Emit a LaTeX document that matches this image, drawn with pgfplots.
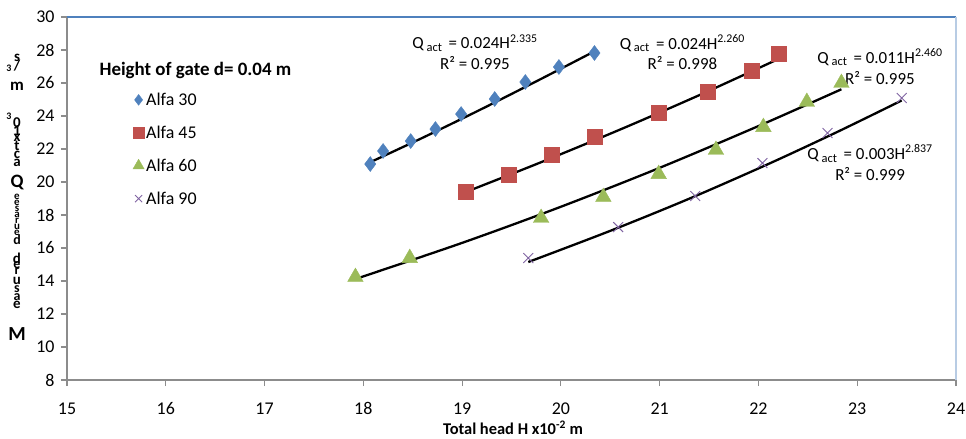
\documentclass[border=0pt]{standalone}
\usepackage{fontspec}
\setmainfont{Carlito}
\usepackage{pgfplots}
\pgfplotsset{compat=1.18}
\definecolor{cBlue}{HTML}{4F81BD}
\definecolor{cRed}{HTML}{C0504D}
\definecolor{cGreen}{HTML}{9BBB59}
\definecolor{cPurple}{HTML}{8064A2}
\definecolor{cAxis}{HTML}{8C8C8C}
\definecolor{cFrame}{HTML}{B8CCE4}
\newcommand{\qact}{Q\,\raisebox{-0.35ex}{\fontsize{12.5}{12.5}\selectfont act}\,}
\newcommand{\slashchar}{/}
\begin{document}
\begin{tikzpicture}
\useasboundingbox (-67bp,-59bp) rectangle (899bp,380bp);
\begin{axis}[
  at={(0,0)}, anchor=south west,
  scale only axis, width=889bp, height=363bp,
  xmin=15, xmax=24, ymin=8, ymax=30,
  xtick={15,16,...,24}, ytick={8,10,...,30},
  axis x line*=bottom, axis y line*=left,
  axis line style={cAxis, line width=1.6bp},
  tick align=outside, major tick length=6bp,
  tick style={cAxis, line width=1.2bp},
  /pgf/number format/assume math mode=true,
  ticklabel style={font=\fontsize{18}{18}\selectfont},
  xticklabel style={yshift=-13bp},
  yticklabel style={xshift=-3bp},
  clip=false,
  legend style={at={(0.074,0.797)}, anchor=north west, draw=none, fill=none,
    font=\fontsize{18}{18}\selectfont, row sep=15bp, inner sep=0pt,
    /tikz/every even column/.append style={column sep=3bp}},
  legend cell align=left,
  legend image code/.code={\draw[#1] plot coordinates {(0.2cm,0cm)};},
  legend image post style={every mark/.append style={scale=0.72}},
]
% data
\addplot[only marks, mark=diamond*, mark size=7.5bp, mark options={fill=cBlue, draw=cBlue}] coordinates {
(18.07,21.09) (18.20,21.88) (18.48,22.48) (18.73,23.21) (18.99,24.12) (19.33,25.03) (19.64,26.06) (19.98,26.97) (20.34,27.82)};
\addlegendentry{Alfa 30}
\addplot[only marks, mark=square*, mark size=7.5bp, mark options={fill=cRed, draw=cRed, rounded corners=1.5bp}] coordinates {
(19.04,19.39) (19.47,20.42) (19.91,21.64) (20.34,22.73) (20.99,24.18) (21.49,25.45) (21.93,26.73) (22.20,27.76)};
\addlegendentry{Alfa 45}
\addplot[only marks, mark=triangle*, mark size=9bp, mark options={fill=cGreen, draw=cGreen}] coordinates {
(17.92,14.24) (18.47,15.39) (19.80,17.82) (20.43,19.09) (20.99,20.48) (21.57,21.94) (22.05,23.33) (22.49,24.85) (22.84,26.00)};
\addlegendentry{Alfa 60}
\addplot[only marks, mark=x, mark size=7bp, mark options={draw=cPurple, line width=0.9bp}] coordinates {
(19.67,15.39) (20.58,17.27) (21.36,19.15) (22.04,21.15) (22.70,22.97) (23.45,25.09)};
\addlegendentry{Alfa 90}
% trend lines
\addplot[forget plot, black, line width=2.3bp, smooth] coordinates {
(18.07,21.20) (18.60,22.68) (19.20,24.43) (19.80,26.25) (20.34,27.92)};
\addplot[forget plot, black, line width=2.3bp, smooth] coordinates {
(19.04,19.40) (19.80,21.20) (20.60,23.18) (21.40,25.26) (22.20,27.45)};
\addplot[forget plot, black, line width=2.3bp, smooth] coordinates {
(17.92,14.12) (19.00,16.31) (20.00,18.50) (21.00,20.86) (22.00,23.39) (22.84,25.62)};
\addplot[forget plot, black, line width=2.3bp, smooth] coordinates {
(19.67,15.15) (20.50,17.04) (21.30,18.99) (22.10,21.09) (22.80,23.04) (23.45,24.94)};
% frame top and right
\draw[cBlue, line width=1.6bp] (rel axis cs:0,1) -- (rel axis cs:1,1);
\draw[cFrame, line width=1.6bp] (rel axis cs:1,0) -- (rel axis cs:1,1);
% annotations
\node[align=center, font=\fontsize{17}{21}\selectfont] at (axis cs:19.13,27.85) {\qact{} = 0.024H\textsuperscript{2.335}\\R² = 0.995};
\node[align=center, font=\fontsize{17}{21}\selectfont] at (axis cs:21.23,27.85) {\qact{} = 0.024H\textsuperscript{2.260}\\R² = 0.998};
\node[align=center, font=\fontsize{17}{21}\selectfont] at (axis cs:23.23,27.00) {\qact{} = 0.011H\textsuperscript{2.460}\\R² = 0.995};
\node[align=center, font=\fontsize{17}{21}\selectfont] at (axis cs:23.13,21.18) {\qact{} = 0.003H\textsuperscript{2.837}\\R² = 0.999};
\node[font=\bfseries\fontsize{19}{19}\selectfont] at (axis cs:16.30,26.73) {Height of gate d= 0.04 m};
\end{axis}
% x label
\node[font=\bfseries\fontsize{16.5}{16.5}\selectfont] at (446bp,-48bp) {Total head H x10\textsuperscript{-2} m};
% stacked y label
\foreach \c/\py/\s/\dx in {s/58/15/0, \slashchar/66/15/0, 3/68/10/-8, m/86/17/0, 3/116/10/-8, 0/123/15/0, 1/131/15/0, x/138/15/0, t/146/15/0, c/155/15/0, a/163/15/0, Q/182/19/0,
  e/197/11/0, e/203/11/0, s/209/11/0, a/215/11/0, r/221/11/0, u/227/11/0, e/233/11/0, d/240/14/0,
  d/258/15/0, e/265/14/0, r/271/14/0, u/281/15/0, s/289/14/0, a/297/14/0, e/305/15/0, M/334/20/0}
  {\node[font=\bfseries\fontsize{\s}{\s}\selectfont, inner sep=0pt] at ({(-50+\dx)*1bp},{(380-\py)*1bp}) {\c};}
\end{tikzpicture}
\end{document}
